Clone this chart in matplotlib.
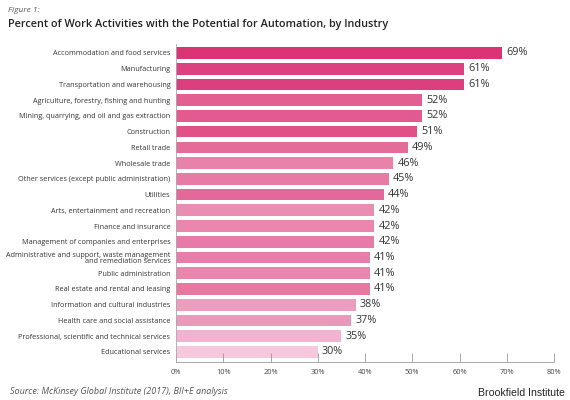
import matplotlib
matplotlib.use("Agg")
import matplotlib.pyplot as plt

industries = [
    "Accommodation and food services",
    "Manufacturing",
    "Transportation and warehousing",
    "Agriculture, forestry, fishing and hunting",
    "Mining, quarrying, and oil and gas extraction",
    "Construction",
    "Retail trade",
    "Wholesale trade",
    "Other services (except public administration)",
    "Utilities",
    "Arts, entertainment and recreation",
    "Finance and insurance",
    "Management of companies and enterprises",
    "Administrative and support, waste management\nand remediation services",
    "Public administration",
    "Real estate and rental and leasing",
    "Information and cultural industries",
    "Health care and social assistance",
    "Professional, scientific and technical services",
    "Educational services",
]
percents = [69, 61, 61, 52, 52, 51, 49, 46, 45, 44, 42, 42, 42, 41, 41, 41, 38, 37, 35, 30]
bar_colors = [
    "#DB3475", "#DD4280", "#DC3F7D", "#E35E91", "#E25A8F", "#E05089", "#E46C99",
    "#E982AA", "#E67BA5", "#E4689A", "#EA8DB3", "#EB86AF", "#E87AA8", "#E87DAA",
    "#EA86AE", "#E8789F", "#ED9EBF", "#EC98BB", "#F1B3CF", "#F6C8DD",
]
x_ticks = [0, 10, 20, 30, 40, 50, 60, 70, 80]

plt.rcParams['font.family'] = ['Open Sans', 'DejaVu Sans']

fig = plt.figure(figsize=(5.7, 4.0), dpi=100)
ax = fig.add_axes([176 / 570, 1 - 362 / 400, (554 - 176) / 570, (362 - 44) / 400])

ypos = list(range(len(industries)))
ax.barh(ypos, percents, height=0.74, color=bar_colors, edgecolor="none")

for y, v in zip(ypos, percents):
    ax.text(v + 0.9, y, f"{v}%", va="center", ha="left", fontsize=7.8, color="#333333")

ax.set_xlim(0, 80)
ax.set_ylim(19.64, -0.57)
ax.set_yticks(ypos)
ax.set_yticklabels(industries, fontsize=5.25, color="#333333", linespacing=0.9)
ax.tick_params(axis="y", length=0, pad=4)
ax.set_xticks(x_ticks)
ax.set_xticklabels([f"{t}%" for t in x_ticks], fontsize=5.3, color="#444444")
ax.tick_params(axis="x", direction="in", length=6.5, width=0.6, color="#999999", pad=5)

for s in ["top", "right"]:
    ax.spines[s].set_visible(False)
ax.spines["left"].set_color("#aaaaaa")
ax.spines["left"].set_linewidth(0.6)
ax.spines["bottom"].set_color("#999999")
ax.spines["bottom"].set_linewidth(0.6)

fig.text(8 / 570, 1 - 10 / 400, "Figure 1:", fontsize=6, style="italic", color="#555555", va="center")
fig.text(8 / 570, 1 - 24 / 400, "Percent of Work Activities with the Potential for Automation, by Industry",
         fontsize=7.8, fontweight="semibold", color="#222222", va="center")
fig.text(10 / 570, 1 - 392 / 400, "Source: McKinsey Global Institute (2017), BII+E analysis",
         fontsize=6.5, style="italic", color="#555555", va="center")
fig.text(565 / 570, 1 - 393 / 400, "Brookfield Institute", fontsize=7.6, color="#222222",
         family="Liberation Sans", ha="right", va="center")

fig.savefig("out.png", dpi=100)
